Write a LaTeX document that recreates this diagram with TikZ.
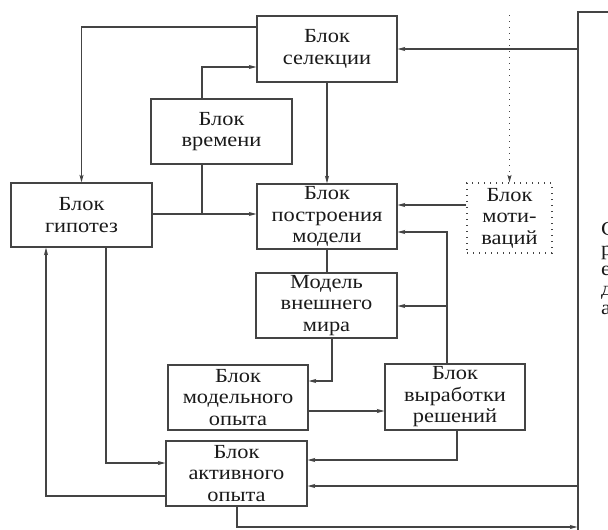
\documentclass[tikz,border=0pt]{standalone}
\usepackage{fontspec}
\setmainfont{Liberation Serif}[FakeStretch=1.12]
\usetikzlibrary{arrows.meta,calc}
\definecolor{linec}{HTML}{444444}
\definecolor{textc}{HTML}{1A1A1A}
\begin{document}
\begin{tikzpicture}[x=1pt,y=-1pt,
  box/.style={draw=linec, line width=1.2pt, inner sep=0pt, align=center,
    font=\fontsize{20}{21.5}\selectfont, text=textc},
  dotbox/.style={box, line width=1.1pt, dash pattern=on 1.2pt off 4.8pt},
  conn/.style={draw=linec, line width=1.2pt},
  arr/.style={conn, -{Stealth[length=7.5pt,width=4pt,inset=1.5pt]}},
  letter/.style={anchor=base west, inner sep=0pt, font=\fontsize{20}{21.5}\selectfont, text=textc}
]
\useasboundingbox (0,0) rectangle (608,530);
\node[box, minimum width=140pt, minimum height=66pt] (sel) at (327,49) {Блок\\селекции};
\node[box, minimum width=141pt, minimum height=65pt] (vrem) at (221.5,131.5) {Блок\\времени};
\node[box, minimum width=141pt, minimum height=64pt] (gip) at (81.5,215) {Блок\\гипотез};
\node[box, minimum width=140pt, minimum height=65pt] (post) at (327,216.5) {Блок\\построения\\модели};
\node[dotbox, minimum width=85pt, minimum height=70pt] (motiv) at (509.5,218) {Блок\\моти-\\ваций};
\node[box, minimum width=141pt, minimum height=65pt] (mir) at (326.5,305.5) {Модель\\внешнего\\мира};
\node[box, minimum width=140pt, minimum height=65pt] (modop) at (238,397.5) {Блок\\модельного\\опыта};
\node[box, minimum width=140pt, minimum height=66pt] (vyr) at (455,397) {Блок\\выработки\\решений};
\node[box, minimum width=141pt, minimum height=65pt] (akt) at (236.5,473.5) {Блок\\активного\\опыта};
\node[box, minimum width=200pt, minimum height=600pt] (env) at (678,312) {};
\node[letter] (l1) at (601,235) {С};
\node[letter] (l2) at (601,255) {р};
\node[letter] (l3) at (601,275) {е};
\node[letter] (l4) at (601,295) {д};
\node[letter] (l5) at (601,314) {а};

\coordinate (b1) at (81.5,27);
\draw[arr] (sel.west |- b1) -- (b1) -- (gip.north);
\coordinate (b2) at (202,67);
\draw[arr] (vrem.north -| b2) -- (b2) -- (sel.west |- b2);
\coordinate (j1) at (202,214);
\draw[conn] (vrem.south -| j1) -- (j1);
\draw[arr] (gip.east |- j1) -- (post.west |- j1);
\draw[arr] (sel.south) -- (post.north);
\draw[arr] (env.west |- sel.east) -- (sel.east);
\coordinate (dtop) at (509.5,15);
\draw[arr, line width=1.1pt, dash pattern=on 1.2pt off 4.8pt] (dtop) -- (motiv.north);
\coordinate (m1) at (467,205);
\draw[arr] (motiv.west |- m1) -- (post.east |- m1);
\coordinate (v1) at (447,232);
\coordinate (v2) at (447,306);
\draw[arr] (vyr.north -| v1) -- (v1) -- (post.east |- v1);
\draw[arr] (v2) -- (mir.east |- v2);
\draw[conn] (post.south) -- (post.south |- mir.north);
\coordinate (w1) at (332,381);
\draw[arr] (mir.south -| w1) -- (w1) -- (modop.east |- w1);
\coordinate (o1) at (0,411);
\draw[arr] (modop.east |- o1) -- (vyr.west |- o1);
\coordinate (r1) at (457,460);
\draw[arr] (vyr.south -| r1) -- (r1) -- (akt.east |- r1);
\coordinate (e1) at (0,486);
\draw[arr] (env.west |- e1) -- (akt.east |- e1);
\coordinate (a1) at (237,527);
\draw[arr] (akt.south -| a1) -- (a1) -- (env.west |- a1);
\coordinate (g1) at (106,463);
\draw[arr] (gip.south -| g1) -- (g1) -- (akt.west |- g1);
\coordinate (g2) at (46,496);
\draw[arr] (akt.west |- g2) -- (g2) -- (gip.south -| g2);
\end{tikzpicture}
\end{document}
